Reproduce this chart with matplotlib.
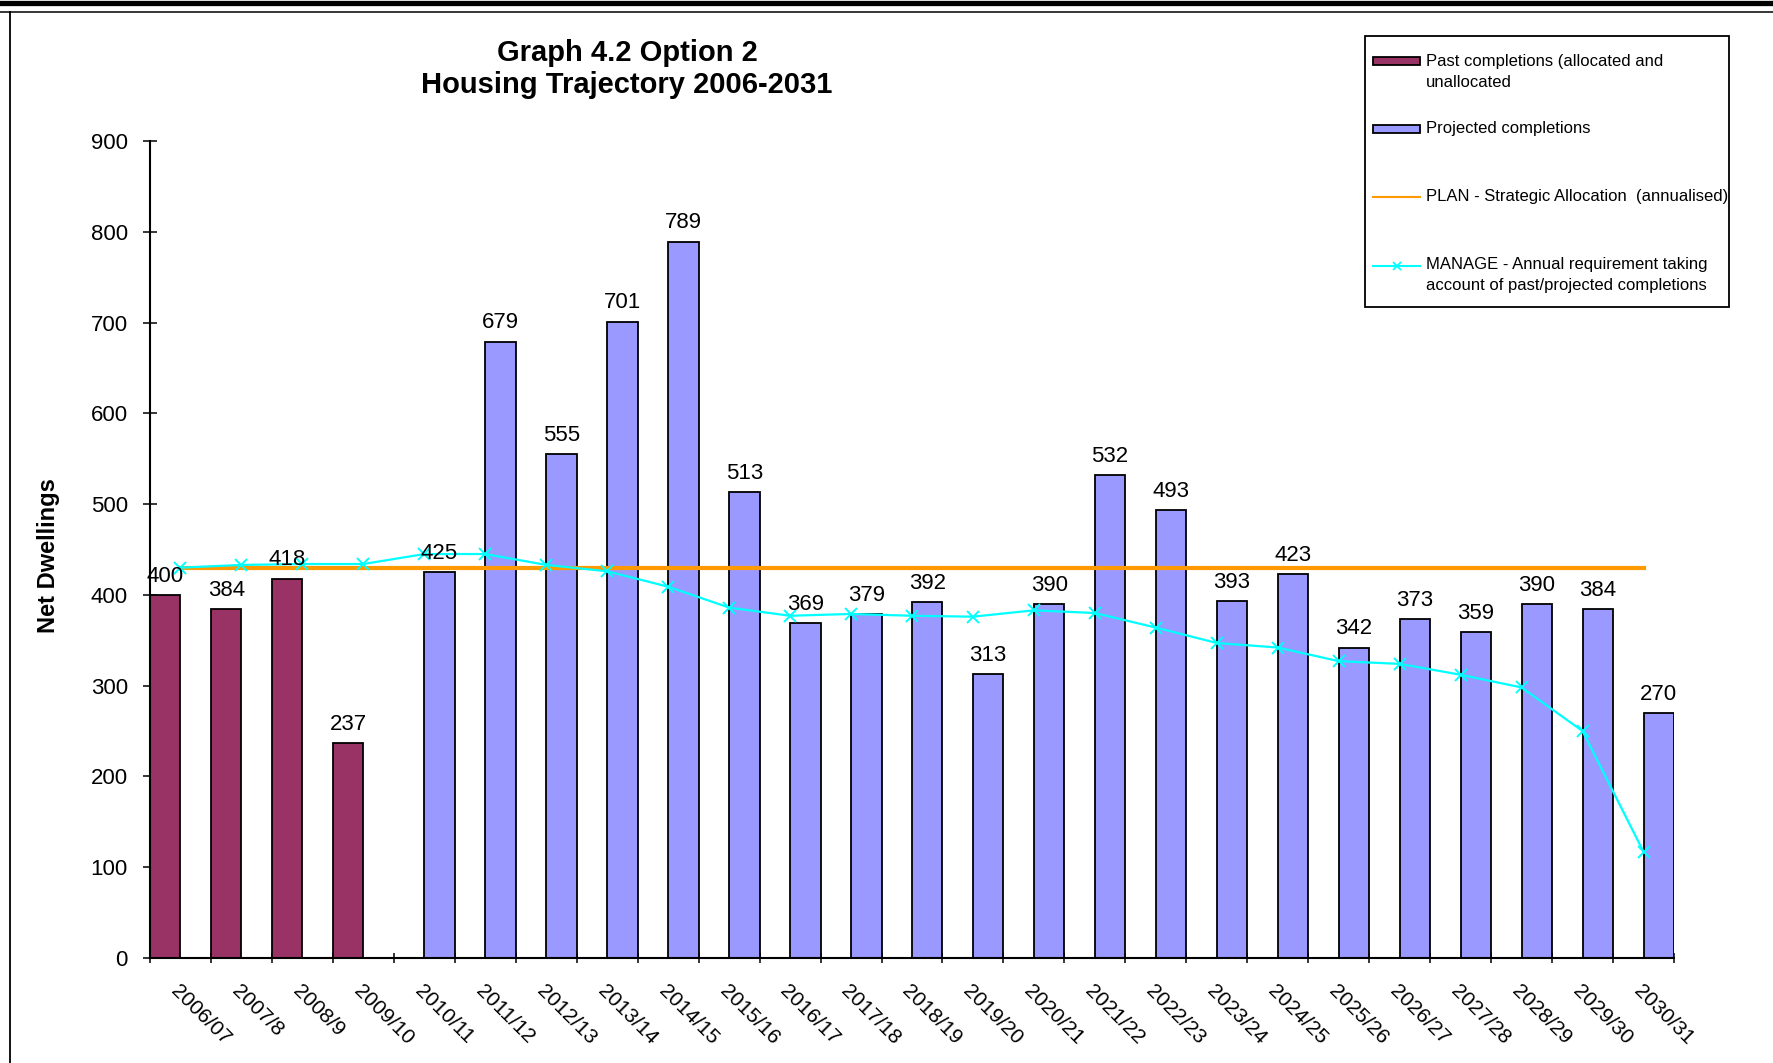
import matplotlib
matplotlib.use("Agg")
import matplotlib.pyplot as plt
from matplotlib.patches import Rectangle
from matplotlib.lines import Line2D
import numpy as np

plt.rcParams['font.family'] = ['Liberation Sans', 'DejaVu Sans']

# data
years = ["2006/07", "2007/8", "2008/9", "2009/10", "2010/11", "2011/12", "2012/13",
         "2013/14", "2014/15", "2015/16", "2016/17", "2017/18", "2018/19", "2019/20",
         "2020/21", "2021/22", "2022/23", "2023/24", "2024/25", "2025/26", "2026/27",
         "2027/28", "2028/29", "2029/30", "2030/31"]
past_years = ["2006/07", "2007/8", "2008/9", "2009/10"]
past = [400, 384, 418, 237]
proj_years = years[4:]
projected = [425, 679, 555, 701, 789, 513, 369, 379, 392, 313, 390, 532, 493,
             393, 423, 342, 373, 359, 390, 384, 270]
plan = [430] * 25
manage = [430, 433, 434, 434, 445, 445, 433, 426, 409, 386, 377, 379, 377, 376,
          383, 380, 364, 347, 342, 327, 324, 312, 298, 250, 117]

PAST_COL = "#993366"
PROJ_COL = "#9999FF"
PLAN_COL = "#FF9900"
MANAGE_COL = "#00FFFF"

W, H = 1773, 1063

def fx(px):
    return px / W

def fy(py):
    # pixel rows counted from the top
    return 1 - py / H

fig = plt.figure(figsize=(W / 100, H / 100), dpi=100)
ax = fig.add_axes([fx(150), fy(958), (1674 - 150) / W, (958 - 141) / H])

x = np.arange(len(years))
x_past = np.array([years.index(y) for y in past_years])
x_proj = np.array([years.index(y) for y in proj_years])

# clustered bars: past on the left half, projected on the right half
ax.bar(x_past - 0.25, past, width=0.5, color=PAST_COL, edgecolor="black", linewidth=1.3, zorder=2)
ax.bar(x_proj + 0.25, projected, width=0.5, color=PROJ_COL, edgecolor="black", linewidth=1.3, zorder=2)

ax.plot(x, plan, color=PLAN_COL, linewidth=3, zorder=3)
ax.plot(x, manage, color=MANAGE_COL, linewidth=1.6, marker="x", markersize=8,
        markeredgewidth=1.4, zorder=4)

for xi, v in zip(x_past - 0.25, past):
    ax.annotate(str(v), (xi, v), xytext=(0, 6), textcoords="offset points",
                ha="center", va="bottom", fontsize=16, zorder=5)
for xi, v in zip(x_proj + 0.25, projected):
    ax.annotate(str(v), (xi, v), xytext=(0, 6), textcoords="offset points",
                ha="center", va="bottom", fontsize=16, zorder=5)

ax.set_xlim(-0.5, len(years) - 0.5)
ax.set_ylim(0, 900)
ax.set_yticks(np.arange(0, 901, 100))
ax.tick_params(axis="y", direction="inout", length=10, width=1.1, pad=11, labelsize=16)

# major ticks on category boundaries, labels on minor ticks at centres
ax.set_xticks(np.arange(-0.5, len(years), 1.0))
ax.set_xticklabels([])
ax.set_xticks(x, minor=True)
ax.set_xticklabels(years, minor=True, rotation=-45, ha="left", va="top",
                   rotation_mode="anchor", fontsize=15)
ax.tick_params(axis="x", which="major", direction="inout", length=7, width=1.1)
ax.tick_params(axis="x", which="minor", length=0, pad=17)

for s in ["top", "right"]:
    ax.spines[s].set_visible(False)
for s in ["left", "bottom"]:
    ax.spines[s].set_linewidth(1.5)

fig.text(fx(49), fy(556), "Net Dwellings", rotation=90, ha="center",
         va="center", fontsize=17, fontweight="bold")
fig.text(fx(627), fy(69), "Graph 4.2 Option 2\nHousing Trajectory 2006-2031",
         ha="center", va="center", fontsize=21, fontweight="bold", linespacing=1.15)

# legend box drawn by hand (Excel style: key level with the first text line)
fig.add_artist(Rectangle((fx(1365), fy(307)), (1729 - 1365) / W, (307 - 36) / H,
                         facecolor="white", edgecolor="black", linewidth=1.3))
entries = [
    ("bar", PAST_COL, 61, 71.7, "Past completions (allocated and\nunallocated"),
    ("bar", PROJ_COL, 129, 129, "Projected completions"),
    ("line", PLAN_COL, 196.7, 196.7, "PLAN - Strategic Allocation  (annualised)"),
    ("marker", MANAGE_COL, 265.7, 275.4,
     "MANAGE - Annual requirement taking\naccount of past/projected completions"),
]
for kind, col, key_y, text_y, label in entries:
    if kind == "bar":
        fig.add_artist(Rectangle((fx(1373), fy(key_y + 3.5)), 47 / W, 7 / H,
                                 facecolor=col, edgecolor="black", linewidth=1.3))
    else:
        fig.add_artist(Line2D([fx(1373), fx(1420)], [fy(key_y)] * 2, color=col,
                              linewidth=1.5))
        if kind == "marker":
            fig.add_artist(Line2D([fx(1396.5)], [fy(key_y)], color=col, marker="x",
                                  markersize=6, markeredgewidth=1.3))
    fig.text(fx(1426), fy(text_y), label, ha="left", va="center", fontsize=12,
             linespacing=1.5)

# chart area border
fig.add_artist(Line2D([0, 1], [fy(2.5)] * 2, color="black", linewidth=3.8))
fig.add_artist(Line2D([0, 1], [fy(12)] * 2, color="black", linewidth=1.1))
fig.add_artist(Line2D([fx(10)] * 2, [0, fy(12)], color="black", linewidth=1.3))

fig.savefig("out.png", dpi=100)
